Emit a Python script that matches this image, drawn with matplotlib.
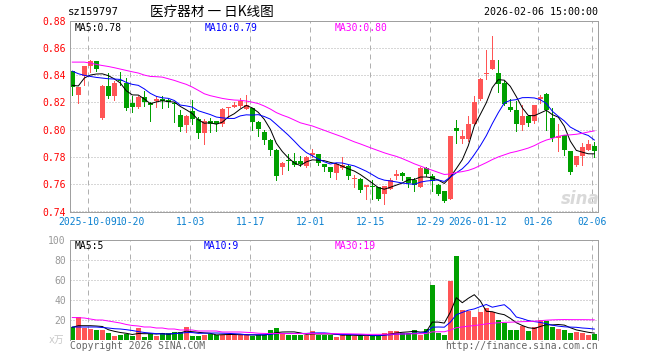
import numpy as np
import pandas as pd
import matplotlib

matplotlib.use('Agg')
import matplotlib.pyplot as plt

# candle data (one entry per trading day)
opens = [0.8429, 0.8254, 0.8390, 0.8464, 0.8505, 0.8085, 0.8320, 0.8245, 0.8365, 0.8345,
         0.8195, 0.8163, 0.8236, 0.8195, 0.8208, 0.8225, 0.8218, 0.8195, 0.8108, 0.8037,
         0.8136, 0.8077, 0.7975, 0.8064, 0.8060, 0.8041, 0.8156, 0.8168, 0.8171, 0.8154,
         0.8160, 0.8058, 0.7980, 0.7927, 0.7849, 0.7723, 0.7775, 0.7768, 0.7768, 0.7732,
         0.7815, 0.7824, 0.7751, 0.7724, 0.7683, 0.7720, 0.7737, 0.7641, 0.7641, 0.7577,
         0.7588, 0.7577, 0.7526, 0.7568, 0.7663, 0.7683, 0.7654, 0.7629, 0.7580, 0.7717,
         0.7663, 0.7597, 0.7548, 0.7494, 0.8015, 0.7934, 0.7934, 0.8042, 0.8222, 0.8406,
         0.8443, 0.8413, 0.8340, 0.8168, 0.8143, 0.8037, 0.8099, 0.8062, 0.8226, 0.8258,
         0.8086, 0.7942, 0.7963, 0.7846, 0.7738, 0.7804, 0.7853, 0.7878]
closes = [0.8312, 0.8312, 0.8463, 0.8506, 0.8445, 0.8320, 0.8245, 0.8345, 0.8355, 0.8160,
          0.8168, 0.8240, 0.8203, 0.8180, 0.8225, 0.8213, 0.8205, 0.8188, 0.8020, 0.8100,
          0.8077, 0.7973, 0.8064, 0.8040, 0.8045, 0.8151, 0.8166, 0.8183, 0.8210, 0.8178,
          0.8058, 0.8004, 0.7927, 0.7849, 0.7663, 0.7756, 0.7770, 0.7744, 0.7750, 0.7800,
          0.7829, 0.7756, 0.7727, 0.7688, 0.7750, 0.7740, 0.7658, 0.7646, 0.7560, 0.7597,
          0.7580, 0.7494, 0.7585, 0.7631, 0.7676, 0.7658, 0.7610, 0.7597, 0.7722, 0.7678,
          0.7627, 0.7528, 0.7474, 0.7953, 0.7990, 0.7953, 0.8042, 0.8204, 0.8369, 0.8418,
          0.8509, 0.8332, 0.8185, 0.8143, 0.8042, 0.8099, 0.8050, 0.8177, 0.8241, 0.8143,
          0.7939, 0.7956, 0.7848, 0.7693, 0.7804, 0.7873, 0.7897, 0.7846]
highs = [0.8430, 0.8315, 0.8470, 0.8510, 0.8505, 0.8330, 0.8415, 0.8360, 0.8420, 0.8380,
         0.8245, 0.8245, 0.8280, 0.8205, 0.8248, 0.8250, 0.8225, 0.8205, 0.8141, 0.8105,
         0.8218, 0.8095, 0.8075, 0.8087, 0.8067, 0.8160, 0.8168, 0.8202, 0.8232, 0.8256,
         0.8160, 0.8061, 0.8000, 0.7935, 0.7860, 0.7760, 0.7824, 0.7830, 0.7810, 0.7810,
         0.7858, 0.7824, 0.7751, 0.7724, 0.7755, 0.7799, 0.7740, 0.7666, 0.7645, 0.7597,
         0.7629, 0.7580, 0.7585, 0.7646, 0.7703, 0.7690, 0.7656, 0.7646, 0.7727, 0.7727,
         0.7678, 0.7600, 0.7550, 0.7953, 0.8070, 0.7998, 0.8099, 0.8246, 0.8381, 0.8583,
         0.8688, 0.8509, 0.8357, 0.8227, 0.8209, 0.8177, 0.8099, 0.8180, 0.8251, 0.8266,
         0.8160, 0.8042, 0.7963, 0.7846, 0.7806, 0.7902, 0.7927, 0.7907]
lows = [0.8254, 0.8195, 0.8327, 0.8420, 0.8430, 0.8078, 0.8230, 0.8215, 0.8330, 0.8145,
        0.8127, 0.8160, 0.8170, 0.8066, 0.8165, 0.8160, 0.8165, 0.8055, 0.7993, 0.7985,
        0.8042, 0.7940, 0.7896, 0.7983, 0.7988, 0.8025, 0.8090, 0.8166, 0.8163, 0.8150,
        0.8000, 0.7950, 0.7898, 0.7817, 0.7634, 0.7674, 0.7707, 0.7732, 0.7730, 0.7728,
        0.7800, 0.7739, 0.7695, 0.7650, 0.7635, 0.7713, 0.7641, 0.7577, 0.7540, 0.7491,
        0.7494, 0.7485, 0.7457, 0.7563, 0.7639, 0.7634, 0.7580, 0.7553, 0.7580, 0.7658,
        0.7548, 0.7520, 0.7467, 0.7492, 0.7905, 0.7904, 0.7914, 0.8036, 0.8214, 0.8369,
        0.8443, 0.8278, 0.8177, 0.8136, 0.7988, 0.8000, 0.8025, 0.8050, 0.8197, 0.8000,
        0.7914, 0.7841, 0.7816, 0.7676, 0.7737, 0.7738, 0.7850, 0.7799]

# volume (万)
volumes = [12.7, 23.3, 12.3, 11.3, 10.3, 10.3, 7.3, 4.3, 5.3, 6.3,
           4.3, 12.3, 3.3, 5.7, 4.3, 7.3, 7.3, 8.3, 8.3, 13.3,
           4.3, 4.3, 5.3, 6.3, 5.3, 5.3, 5.3, 5.3, 5.3, 5.3,
           4.3, 4.7, 5.3, 10.3, 12.3, 7.3, 5.3, 5.3, 5.3, 5.3,
           9.3, 5.3, 5.3, 5.3, 3.3, 5.3, 5.3, 4.3, 4.3, 4.3,
           3.7, 5.3, 7.3, 9.3, 9.3, 7.3, 7.3, 10.3, 5.3, 11.3,
           55.3, 7.3, 5.3, 59.3, 84.3, 30.3, 29.3, 23.3, 28.3, 32.3,
           28.3, 20.3, 17.3, 10.3, 10.3, 14.3, 9.3, 13.3, 20.3, 19.3,
           13.3, 11.3, 10.3, 7.3, 8.3, 7.3, 5.3, 6.3]

price_ma5_head = [0.8325, 0.8320, 0.8378, 0.8400]
price_ma10_head = [0.8429, 0.8410, 0.8398, 0.8390, 0.8383, 0.8378, 0.8373, 0.8371, 0.8368]
price_ma30_head = [0.8495, 0.8495, 0.8495, 0.8488, 0.8478, 0.8470, 0.8463, 0.8454, 0.8444, 0.8434,
                   0.8424, 0.8415, 0.8400, 0.8390, 0.8388, 0.8385, 0.8373, 0.8361, 0.8346, 0.8332,
                   0.8312, 0.8288, 0.8263, 0.8249, 0.8239, 0.8229, 0.8222, 0.8217, 0.8215]
vol_ma5_head = [12.7, 14.3, 14.3, 14.3]
vol_ma10_head = [13, 13, 13, 13, 13, 12.5, 12, 11.3, 11]
vol_ma30_head = [22.5, 22.3, 22, 21, 20, 20, 19, 18, 17, 15.5,
                 14.5, 14, 13, 13, 12, 12, 11, 11, 10, 10,
                 10, 9, 9, 9, 9, 8, 8, 8, 8]

tick_idx = [3, 10, 20, 30, 40, 50, 60, 68, 78, 87]
tick_labels = ['2025-10-09', '10-20', '11-03', '11-17', '12-01', '12-15',
               '12-29', '2026-01-12', '01-26', '02-06']
price_ticks = [0.74, 0.76, 0.78, 0.80, 0.82, 0.84, 0.86, 0.88]
vol_ticks = [20, 40, 60, 80, 100]

RED = '#ff5555'
GREEN = '#00a000'
GRID = '#b0b0b0'
FRAME = '#a0a0a0'
DATE_BLUE = '#0a80d0'
MONO = ['DejaVu Sans Mono', 'Noto Sans CJK SC']

W, H = 660, 360
PX = 72 / 100  # one pixel in points


def box(l, t, r, b):
    return [l / W, 1 - b / H, (r - l) / W, (b - t) / H]


def moving_avg(values, n, head):
    out = pd.Series(values).rolling(n).mean().to_numpy()
    out[:len(head)] = head
    return out


o = np.array(opens)
c = np.array(closes)
x = np.arange(len(c))
up = c >= o
colors = np.where(up, RED, GREEN)
vol = np.array(volumes)

fig = plt.figure(figsize=(W / 100, H / 100), dpi=100, facecolor='white')
ax = fig.add_axes(box(70, 20.5, 598, 211.5))
axv = fig.add_axes(box(70, 240, 598, 340))

x0 = (70 - 72.3) / 6
x1 = (598 - 72.3) / 6
grid_x = np.array(tick_idx) - 0.36

for a in (ax, axv):
    a.set_xlim(x0, x1)
    a.set_axisbelow(True)
    a.set_xticks(grid_x)
    a.grid(axis='x', color=GRID, lw=PX, linestyle=(0, (5, 4)))
    a.grid(axis='y', color=GRID, lw=PX, linestyle=(0, (1, 2)))
    a.tick_params(length=0)
    for s in a.spines.values():
        s.set_color(FRAME)
        s.set_linewidth(PX)

# price panel
ax.set_ylim(0.74, 0.88)
ax.vlines(x, lows, highs, colors=colors, lw=PX, antialiased=False)
body = np.maximum(np.abs(c - o), 0.0008)
ax.bar(x, body, bottom=np.minimum(o, c), width=0.78, color=colors, antialiased=False)
ax.plot(x, moving_avg(c, 5, price_ma5_head), color='black', lw=PX)
ax.plot(x, moving_avg(c, 10, price_ma10_head), color='#0000ff', lw=PX)
ax.plot(x, moving_avg(c, 30, price_ma30_head), color='#ff00ff', lw=PX)

ax.set_yticks(price_ticks)
ax.set_yticklabels(['%.2f' % v for v in price_ticks], color='#ff0000',
                   family='DejaVu Sans Mono', fontsize=7)
ax.set_xticklabels(tick_labels, color=DATE_BLUE, family='DejaVu Sans Mono', fontsize=7)
ax.tick_params(axis='y', pad=3)
ax.tick_params(axis='x', pad=4)

# volume panel
axv.set_ylim(0, 100)
axv.bar(x, vol, width=0.83, color=colors, antialiased=False)
axv.plot(x, moving_avg(vol, 5, vol_ma5_head), color='black', lw=PX)
axv.plot(x, moving_avg(vol, 10, vol_ma10_head), color='#0000ff', lw=PX)
axv.plot(x, moving_avg(vol, 30, vol_ma30_head), color='#ff00ff', lw=PX)
axv.set_yticks(vol_ticks)
axv.set_yticklabels([str(v) for v in vol_ticks], color='#999999',
                    family='DejaVu Sans Mono', fontsize=7)
axv.set_xticklabels([])
axv.tick_params(axis='y', pad=3)
axv.spines['bottom'].set_visible(False)


def label(px, py, s, color='black', size=7, ha='left', family=MONO, **kw):
    fig.text(px / W, 1 - py / H, s, color=color, fontsize=size, ha=ha, va='center',
             family=family, **kw)


# header
label(68, 12, 'sz159797', size=7.6)
label(150, 12, '医疗器材 一 日K线图', size=9.8, family=['Noto Sans CJK SC', 'DejaVu Sans'])
label(598, 12, '2026-02-06 15:00:00', size=7.2, ha='right')

# moving average legends
label(75, 28, 'MA5:0.78')
label(205, 28, 'MA10:0.79', color='#0000ff')
label(335, 28, 'MA30:0.80', color='#ff00ff')
label(75, 246, 'MA5:5')
label(204, 246, 'MA10:9', color='#0000ff')
label(335, 246, 'MA30:19', color='#ff00ff')

label(64, 340, 'x万', color='#c8c8c8', ha='right')
label(70, 346, 'Copyright 2026 SINA.COM', color='#666666')
label(598, 346, 'http://finance.sina.com.cn', color='#666666', ha='right')

# sina watermark
label(580, 199, 'sina', color='#d9d9d9', size=12, family='DejaVu Sans',
      style='italic', weight='bold', ha='center')

fig.savefig('out.png', dpi=100, facecolor='white')
